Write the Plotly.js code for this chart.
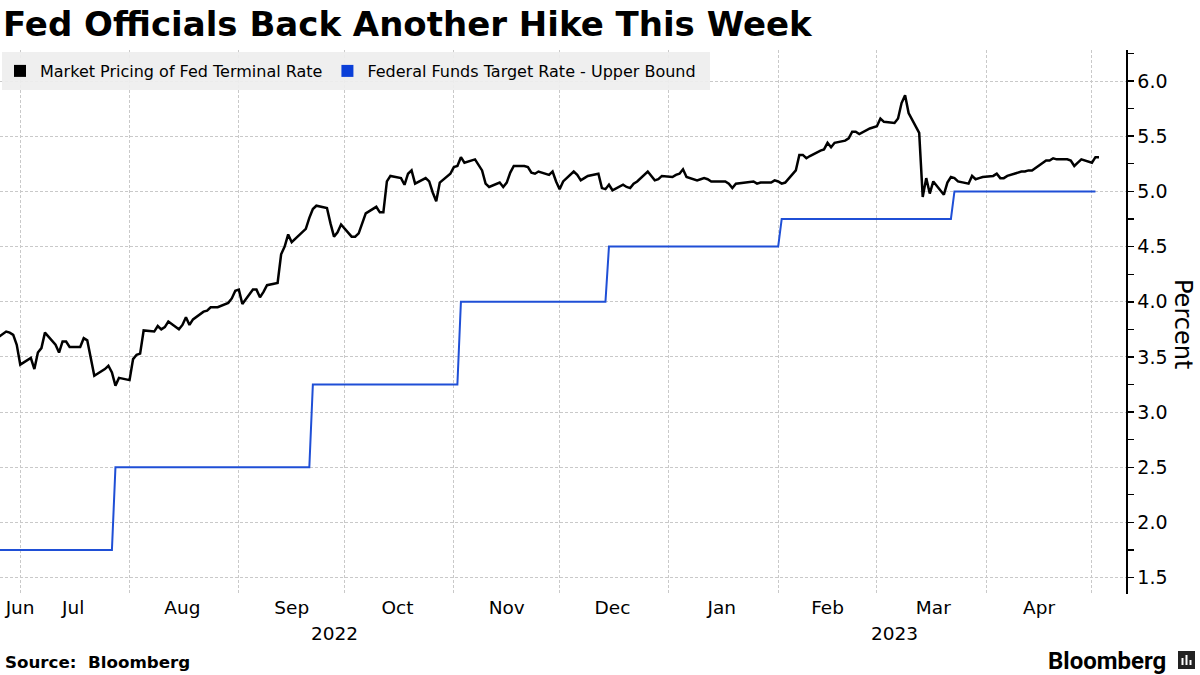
<!DOCTYPE html>
<html><head><meta charset="utf-8">
<script src="https://cdn.plot.ly/plotly-3.0.1.min.js"></script>
<style>html,body{margin:0;padding:0;background:#fff}#chart{width:1200px;height:675px}</style>
</head><body><div id="chart"></div>
<script>
// Market pricing of Fed terminal rate, one value per business day from 2022-06-24
const terminalStart = "2022-06-24";
const terminalRate = [
  3.66,3.73,3.72,3.70,3.61,3.43,3.49,3.39,3.54,3.58,3.72,3.61,3.54,3.64,3.64,3.59,3.59,3.67,3.65,3.49,
  3.33,3.39,3.42,3.36,3.24,3.31,3.29,3.48,3.52,3.53,3.74,3.73,3.78,3.75,3.77,3.82,3.75,3.79,3.86,3.79,3.84,
  3.91,3.92,3.95,3.95,3.95,3.99,4.03,4.10,4.11,3.98,4.11,4.11,4.04,4.09,4.15,4.17,4.43,4.50,4.61,4.54,
  4.63,4.66,4.76,4.84,4.87,4.85,4.71,4.59,4.63,4.70,4.59,4.59,4.62,4.72,4.80,4.86,4.81,4.81,
  5.09,5.14,5.12,5.06,5.16,5.19,5.07,5.12,5.09,4.99,4.91,5.08,5.16,5.22,5.23,5.31,5.26,5.29,5.24,5.19,
  5.07,5.04,5.08,5.04,5.08,5.17,5.23,5.23,5.22,5.17,5.16,5.18,5.15,5.18,5.09,5.02,5.09,5.18,5.15,5.10,5.12,5.14,5.16,
  5.03,5.02,5.06,5.01,5.06,5.04,5.03,5.07,5.09,5.18,5.14,5.10,5.11,5.14,5.13,5.15,5.16,5.20,5.13,5.10,
  5.11,5.12,5.11,5.09,5.09,5.09,5.07,5.03,5.07,5.08,5.09,5.09,5.07,5.08,5.08,5.10,5.09,5.07,5.08,
  5.19,5.33,5.33,5.30,5.32,5.37,5.38,5.44,5.40,5.44,5.46,5.48,5.54,5.54,5.52,5.57,5.58,5.59,5.66,5.63,
  5.62,5.66,5.80,5.87,5.71,5.53,4.95,5.12,4.98,5.09,4.97,5.08,5.13,5.12,5.09,5.07,5.14,5.11,5.12,5.13,5.14,5.16,
  5.12,5.12,5.14,5.17,5.18,5.18,5.19,5.19,5.26,5.28,5.28,5.30,5.29,5.29,5.28,5.23,5.26,5.29,5.26,5.31,5.31
];

// Federal funds target rate - upper bound (step changes)
const fedDates = ["2022-06-24","2022-07-27","2022-07-28","2022-09-21","2022-09-22","2022-11-02","2022-11-03",
  "2022-12-14","2022-12-15","2023-02-01","2023-02-02","2023-03-22","2023-03-23","2023-05-02"];
const fedUpper = [1.75,1.75,2.50,2.50,3.25,3.25,4.00,4.00,4.50,4.50,4.75,4.75,5.00,5.00];

const monthTickDates = ["2022-06-30 23:00","2022-07-16","2022-08-16","2022-09-16","2022-10-16","2022-11-16",
  "2022-12-16","2023-01-16","2023-02-15","2023-03-17","2023-04-16"];
const monthTickText = ["Jun","Jul","Aug","Sep","Oct","Nov","Dec","Jan","Feb","Mar","Apr"];
const monthStarts = ["2022-07-01","2022-08-01","2022-09-01","2022-10-01","2022-11-01","2022-12-01",
  "2023-01-01","2023-02-01","2023-03-01","2023-04-01","2023-05-01"];
const yearLabels = ["2022","2023"];
const yearLabelDates = ["2022-09-28","2023-03-06"];
const seriesNames = ["Market Pricing of Fed Terminal Rate","Federal Funds Target Rate - Upper Bound"];
const seriesColors = ["#000000","#1f4fd6"];

function businessDays(start, n) {
  const out = [];
  const d = new Date(start + "T00:00:00Z");
  while (out.length < n) {
    const wd = d.getUTCDay();
    if (wd !== 0 && wd !== 6) out.push(d.toISOString().slice(0, 10));
    d.setUTCDate(d.getUTCDate() + 1);
  }
  return out;
}
const terminalDates = businessDays(terminalStart, terminalRate.length);

const FONT = "DejaVu Sans, Verdana, sans-serif";
const W = 1200, H = 675, ML = 0, MR = 74, MT = 50, MB = 81;
const PW = W - ML - MR, PH = H - MT - MB;
const px = x => (x - ML) / PW;           // pixel -> paper x (decorations only)
const py = y => (H - MB - y) / PH;       // pixel -> paper y (decorations only)

const traces = [
  {x: fedDates, y: fedUpper, type: "scatter", mode: "lines", line: {color: seriesColors[1], width: 2}, showlegend: false, hoverinfo: "skip"},
  {x: terminalDates, y: terminalRate, type: "scatter", mode: "lines", line: {color: seriesColors[0], width: 2.5}, showlegend: false, hoverinfo: "skip"},
  {x: [null], y: [null], type: "scatter", mode: "markers", name: seriesNames[0], marker: {symbol: "square", size: 12, color: seriesColors[0]}},
  {x: [null], y: [null], type: "scatter", mode: "markers", name: seriesNames[1], marker: {symbol: "square", size: 12, color: "#0a3fd8"}}
];

const annotations = yearLabels.map((t, i) => ({
  text: t, x: yearLabelDates[i], xref: "x", y: py(633), yref: "paper", yanchor: "middle", xanchor: "center",
  showarrow: false, font: {family: FONT, size: 18.5, color: "#000"}
}));
annotations.push({text: "Percent", x: px(1183), y: py(324), xref: "paper", yref: "paper", textangle: 90,
  showarrow: false, xanchor: "center", yanchor: "middle", font: {family: FONT, size: 24, color: "#000"}});
annotations.push({text: "<b>Source:  Bloomberg</b>", x: px(3), y: py(662), xref: "paper", yref: "paper",
  xanchor: "left", yanchor: "middle", showarrow: false, font: {family: FONT, size: 16.7, color: "#000"}});
annotations.push({text: "<b>Bloomberg</b>", x: px(1168), y: py(661), xref: "paper", yref: "paper",
  xanchor: "right", yanchor: "middle", showarrow: false, font: {family: "Roboto, Inter, sans-serif", size: 24, color: "#000"}});

const shapes = [
  {type: "rect", xref: "paper", yref: "paper", x0: px(2), x1: px(710), y0: py(90), y1: py(52),
   fillcolor: "rgba(238,238,238,0.92)", line: {width: 0}, layer: "above"},
  {type: "rect", xref: "paper", yref: "paper", x0: px(1178), x1: px(1195), y0: py(669), y1: py(651),
   fillcolor: "#222", line: {width: 0}},
  {type: "rect", xref: "paper", yref: "paper", x0: px(1181.5), x1: px(1183.5), y0: py(665), y1: py(658),
   fillcolor: "#fff", line: {width: 0}},
  {type: "rect", xref: "paper", yref: "paper", x0: px(1185.5), x1: px(1187.5), y0: py(665), y1: py(655),
   fillcolor: "#fff", line: {width: 0}},
  {type: "rect", xref: "paper", yref: "paper", x0: px(1189.5), x1: px(1191.5), y0: py(665), y1: py(660),
   fillcolor: "#fff", line: {width: 0}}
];

const layout = {
  width: W, height: H,
  margin: {l: ML, r: MR, t: MT, b: MB, pad: 0},
  paper_bgcolor: "#fff", plot_bgcolor: "#fff",
  font: {family: FONT, color: "#000"},
  title: {text: "Fed Officials Back Another Hike This Week", x: 3 / W, xref: "container", xanchor: "left",
    y: 1 - 12 / H, yref: "container", yanchor: "top", font: {family: FONT, size: 34, weight: "bold", color: "#000"}},
  showlegend: true,
  legend: {orientation: "h", x: 0, xanchor: "left", y: py(71), yanchor: "middle",
    bgcolor: "rgba(0,0,0,0)", font: {family: FONT, size: 16, color: "#000"}, itemwidth: 30},
  xaxis: {
    type: "date", range: ["2022-06-25 06:00", "2023-05-10 16:00"], fixedrange: true,
    tickmode: "array", tickvals: monthTickDates, ticktext: monthTickText,
    ticks: "", showgrid: false, showline: false, zeroline: false,
    tickfont: {family: FONT, size: 18.5, color: "#000"},
    minor: {tickmode: "array", tickvals: monthStarts, showgrid: true, gridcolor: "#c9c9c9", gridwidth: 1, griddash: "3px,2px", ticks: ""}
  },
  yaxis: {
    side: "right", range: [1.352, 6.281], fixedrange: true,
    tickmode: "linear", tick0: 1.5, dtick: 0.5, tickformat: ".1f",
    ticks: "outside", ticklen: 6, tickwidth: 1.5, tickcolor: "#000",
    showline: true, linecolor: "#000", linewidth: 1.5, zeroline: false,
    showgrid: true, gridcolor: "#c9c9c9", gridwidth: 1, griddash: "3px,2px",
    tickfont: {family: FONT, size: 19, color: "#000"},
    minor: {dtick: 0.25, ticks: "outside", ticklen: 6, tickwidth: 1.2, tickcolor: "#000", showgrid: false}
  },
  annotations: annotations,
  shapes: shapes
};

Plotly.newPlot("chart", traces, layout, {staticPlot: true, displayModeBar: false});
</script></body></html>
